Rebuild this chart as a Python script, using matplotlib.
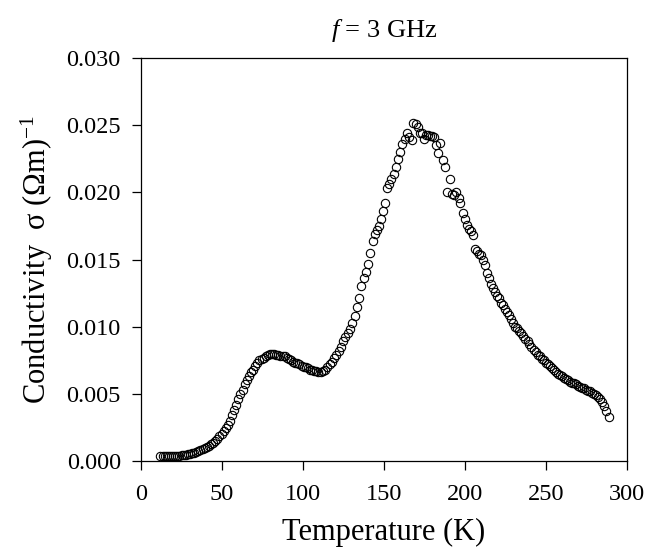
import numpy as np
import matplotlib
matplotlib.use("Agg")
import matplotlib.pyplot as plt

# temperature (K) and conductivity sigma (Ohm m)^-1
temp_k = [
    12.0, 13.3, 14.6, 15.9, 17.2, 18.5, 19.8, 21.1, 22.4, 23.7,
    25.0, 26.3, 27.6, 28.9, 30.2, 31.5, 32.8, 34.1, 35.4, 36.7,
    38.0, 39.3, 40.6, 41.9, 43.2, 44.5, 45.8, 47.1, 48.4, 49.7,
    51.0, 52.3, 53.6, 54.9, 56.2, 57.5, 58.8, 60.1,
    61.4, 62.7, 64.0, 65.3, 66.6, 67.9, 69.2, 70.5, 71.8, 73.1,
    74.4, 75.7, 77.0, 78.3, 79.6, 80.9,
    82.2, 83.5, 84.8, 86.1, 87.4, 88.7, 90.0, 91.3, 92.6, 93.9,
    95.2, 96.5, 97.8, 99.1, 100.4, 101.7, 103.0, 104.3, 105.6, 106.9,
    108.2, 109.5, 110.8,
    112.2, 113.6, 115.0, 116.4, 117.8, 119.2, 120.6, 122.0, 123.4, 124.8,
    126.2, 127.6, 129.0, 130.4, 131.8, 133.2, 134.6, 136.0, 137.4, 138.8,
    140.2, 141.6, 142.9, 144.2, 145.5, 146.8, 148.1, 149.4, 150.7, 152.0,
    153.3, 154.6, 155.9, 157.2, 158.6, 160.0,
    161.4, 162.8, 164.2, 165.6, 167.0, 168.2, 169.5, 170.8, 172.0, 173.3,
    174.6, 175.9, 177.2, 178.5, 179.8, 181.1, 182.4, 183.6, 184.8, 186.2,
    187.5, 188.8, 190.5, 191.8, 193.2, 194.6, 196.0, 197.2, 198.6, 199.9,
    201.2, 202.5, 203.8, 205.0, 206.3, 207.5, 208.8, 210.0, 211.2, 212.4,
    213.6, 214.8, 216.0, 217.3, 218.6, 219.8, 221.0, 222.3, 223.6, 224.8,
    226.0, 227.3, 228.6, 229.8, 231.0, 232.3, 233.6, 234.8, 236.0, 237.3,
    238.6, 239.8, 241.0, 242.3, 243.6, 244.8, 246.0, 247.3, 248.6, 249.8,
    251.0, 252.3, 253.6, 254.8,
    256.0, 257.3, 258.6, 259.8, 261.0, 262.3, 263.6, 264.8, 266.0, 267.3,
    268.6, 269.8, 271.0, 272.3, 273.6, 274.8, 276.0, 277.3, 278.6, 279.8,
    281.0, 282.3, 283.6, 284.8, 286.0, 287.3, 288.6,
]
sigma = [
    0.00035, 0.00035, 0.00034, 0.00035, 0.00035, 0.00036, 0.00036, 0.00037, 0.00038, 0.00040,
    0.00042, 0.00044, 0.00047, 0.00050, 0.00054, 0.00058, 0.00063, 0.00068, 0.00074, 0.00080,
    0.00087, 0.00095, 0.00104, 0.00114, 0.00125, 0.00137, 0.00151, 0.00166, 0.00183, 0.00202,
    0.00222, 0.00245, 0.00270, 0.00300, 0.00340, 0.00380, 0.00420, 0.00460,
    0.0050, 0.0053, 0.0057, 0.0060, 0.0063, 0.0066, 0.0068, 0.0071, 0.0073, 0.0075,
    0.0076, 0.0077, 0.0078, 0.0079, 0.0080, 0.0080,
    0.0080, 0.0079, 0.0079, 0.0078, 0.0078, 0.0078, 0.0077, 0.0076, 0.0075, 0.0074,
    0.0073, 0.0073, 0.0072, 0.0071, 0.0070, 0.0070, 0.0069, 0.0068, 0.0068, 0.0067,
    0.0067, 0.0066, 0.0066,
    0.0067, 0.0068, 0.0070, 0.0072, 0.0074, 0.0077, 0.0079, 0.0082, 0.0085, 0.0089,
    0.0092, 0.0095, 0.0098, 0.0103, 0.0108, 0.0115, 0.0121, 0.0130, 0.0136, 0.0141,
    0.0147, 0.0155, 0.0164, 0.0169, 0.0172, 0.0175, 0.0180, 0.0186, 0.0192, 0.0203,
    0.0206, 0.0210, 0.0214, 0.0219, 0.0225, 0.0230,
    0.0236, 0.0240, 0.0244, 0.0241, 0.0239, 0.0252, 0.0251, 0.0249, 0.0244, 0.0244,
    0.0240, 0.0243, 0.0243, 0.0242, 0.0242, 0.0241, 0.0235, 0.0229, 0.0237, 0.0224,
    0.0219, 0.0200, 0.0210, 0.0199, 0.0198, 0.0200, 0.0196, 0.0192, 0.0185, 0.0180,
    0.0176, 0.0173, 0.0171, 0.0168, 0.0158, 0.0156, 0.0154, 0.0153, 0.0150, 0.0146,
    0.0140, 0.0136, 0.0132, 0.0129, 0.0126, 0.0123, 0.0121, 0.0118, 0.0116, 0.0113,
    0.0111, 0.0109, 0.0106, 0.0103, 0.0100, 0.0099, 0.0097, 0.0095, 0.0093, 0.0091,
    0.0089, 0.0087, 0.0085, 0.0083, 0.0081, 0.0079, 0.0078, 0.0076, 0.0075, 0.0073,
    0.0072, 0.0071, 0.0069, 0.0068,
    0.0066, 0.0065, 0.0064, 0.0063, 0.0062, 0.0061, 0.0060, 0.0059, 0.0058, 0.0058,
    0.0057, 0.0056, 0.0055, 0.0054, 0.0054, 0.0053, 0.0052, 0.0052, 0.0051, 0.0050,
    0.0049, 0.0048, 0.0046, 0.0044, 0.0041, 0.0037, 0.0033,
]

x_ticks = [0, 50, 100, 150, 200, 250, 300]
y_ticks = [0.000, 0.005, 0.010, 0.015, 0.020, 0.025, 0.030]

plt.rcParams['font.family'] = ['Liberation Serif', 'DejaVu Serif']
plt.rcParams['mathtext.fontset'] = 'custom'
plt.rcParams['mathtext.rm'] = 'Liberation Serif'
plt.rcParams['mathtext.it'] = 'Liberation Serif:italic'

fig = plt.figure(figsize=(6.48, 5.59), dpi=100)
ax = fig.add_axes([0.2176, 0.1753, 0.75, 0.7209])

ax.plot(temp_k, sigma, linestyle='none', marker='o', markersize=6,
        markerfacecolor='none', markeredgecolor='black', markeredgewidth=0.8)

ax.set_xlim(0, 300)
ax.set_ylim(0, 0.030)
ax.set_xticks(x_ticks)
ax.set_yticks(y_ticks)
ax.set_yticklabels(["%.3f" % v for v in y_ticks])
ax.tick_params(direction='out', length=6.5, width=0.9, labelsize=17.5, color='black')
ax.tick_params(axis='x', pad=10)
ax.tick_params(axis='y', pad=8)
for s in ax.spines.values():
    s.set_linewidth(0.9)

ax.set_xlabel("Temperature (K)", fontsize=22, labelpad=9)
ax.set_ylabel(r"Conductivity  σ (Ωm)$^{-1}$", fontsize=22, labelpad=8)
ax.set_title(r"$f$ = 3 GHz", fontsize=19, pad=15)

fig.savefig("out.png", dpi=100)
